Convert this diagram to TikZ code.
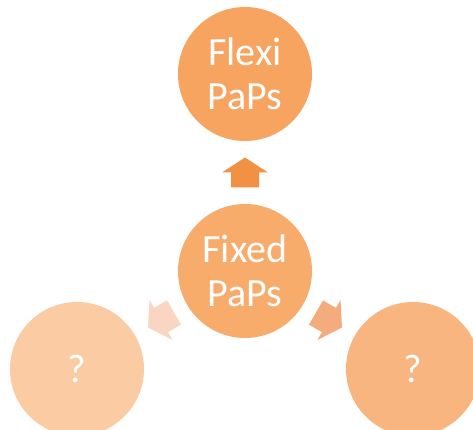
\documentclass[tikz,border=0pt]{standalone}
\usepackage{fontspec}
\setmainfont{Carlito}
\usetikzlibrary{calc}
\definecolor{cTop}{HTML}{F6A45F}
\definecolor{cMid}{HTML}{F7AC6C}
\definecolor{cLeft}{HTML}{FBCBA4}
\definecolor{cRight}{HTML}{F9B580}
\definecolor{aUp}{HTML}{F09143}
\definecolor{aLeft}{HTML}{FAD5C1}
\definecolor{aRight}{HTML}{F4AC7F}
\tikzset{
  bubble/.style={circle, minimum size=134pt, inner sep=0pt, text=white,
    align=center, font=\fontsize{40}{44}\selectfont},
  pics/blockarrow/.style={code={
    \fill[#1] (-15,-14) -- (0,-14) -- (0,-23) -- (15,0) -- (0,23) -- (0,14) -- (-15,14) -- cycle;
  }}
}
\begin{document}
\begin{tikzpicture}[x=1pt, y=-1pt]
\useasboundingbox[fill=white] (0,0) rectangle (473,430);
\node[bubble, fill=cTop] (top) at (245,74) {Flexi\\PaPs};
\node[bubble, fill=cMid] (mid) at (245,271) {Fixed\\PaPs};
\node[bubble, fill=cLeft] (left) at (77,369) {?};
\node[bubble, fill=cRight] (right) at (413,369) {?};
\pic[rotate=90] at ($(mid)!0.5!(top)$) {blockarrow=aUp};
\pic[rotate=210] at ($(mid)!0.5!(left)$) {blockarrow=aLeft};
\pic[rotate=330] at ($(mid)!0.5!(right)$) {blockarrow=aRight};
\end{tikzpicture}
\end{document}
